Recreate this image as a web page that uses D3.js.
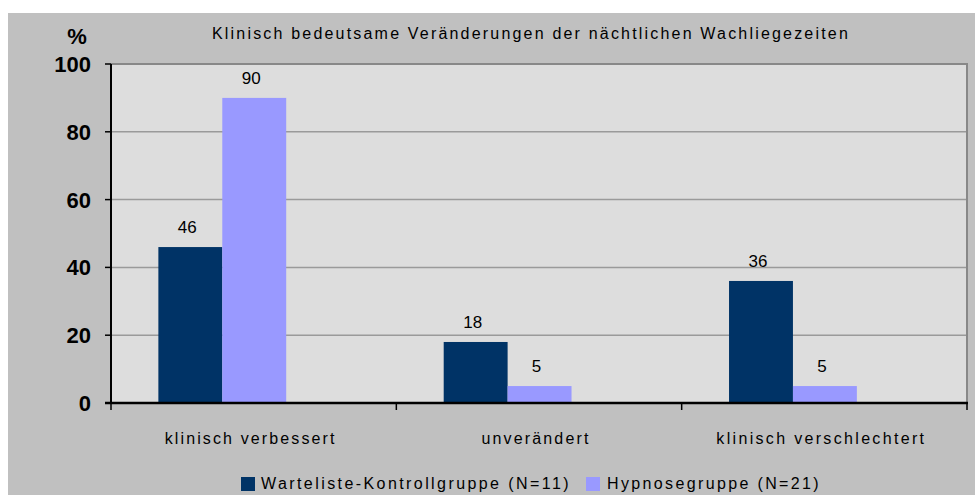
<!DOCTYPE html>
<html>
<head>
<meta charset="utf-8">
<script src="https://cdn.jsdelivr.net/npm/d3@7"></script>
<style>
  body { margin: 0; background: #fff; }
  svg { display: block; font-family: "Liberation Sans", Arial, sans-serif; }
</style>
</head>
<body>
<div id="chart"></div>
<script>
// chart data
const categories = ['klinisch verbessert', 'unverändert', 'klinisch verschlechtert'];
const seriesNames = ['Warteliste-Kontrollgruppe (N=11)', 'Hypnosegruppe (N=21)'];
const kontrollValues = [46, 18, 36];
const hypnoseValues = [90, 5, 5];
const yTicks = [0, 20, 40, 60, 80, 100];
const title = 'Klinisch bedeutsame Veränderungen der nächtlichen Wachliegezeiten';

const colors = ['#003366', '#9999ff'];
const width = 975, height = 495;
const margin = { top: 64, right: 8, bottom: 92, left: 111 };

// stretch a text to a wanted width with letter spacing
function spreadTo(sel, target) {
    sel.each(function(d, i) {
        const t = typeof target === 'function' ? target(d, i) : target;
        const natural = this.getComputedTextLength();
        const n = this.textContent.length;
        if (n > 1) d3.select(this).style('letter-spacing', ((t - natural) / n) + 'px');
    });
}

const svg = d3.select('#chart').append('svg')
    .attr('width', width)
    .attr('height', height);

// outer panel
svg.append('rect')
    .attr('x', 8).attr('y', 13)
    .attr('width', width - 8).attr('height', height - 13)
    .attr('fill', '#c0c0c0');

const x = d3.scaleBand()
    .domain(categories)
    .range([margin.left, width - margin.right]);

// bars sit left of the band centre, like the original
const step = x.bandwidth();
const xInner = d3.scaleBand()
    .domain(d3.range(seriesNames.length))
    .range([step * 0.166, step * 0.614]);

const y = d3.scaleLinear()
    .domain([0, 100])
    .range([height - margin.bottom, margin.top]);

const x0 = margin.left, x1 = width - margin.right;
const y0 = y(0), yTop = y(100);

// plot background
svg.append('rect')
    .attr('x', x0).attr('y', yTop)
    .attr('width', x1 - x0)
    .attr('height', y0 - yTop)
    .attr('fill', '#dddddd');

// grid lines
svg.append('g')
    .selectAll('line')
    .data(yTicks.filter(d => d > 0 && d < 100))
    .enter()
    .append('line')
    .attr('x1', x0).attr('x2', x1)
    .attr('y1', d => y(d)).attr('y2', d => y(d))
    .attr('stroke', '#9a9a9a')
    .attr('stroke-width', 1.5);

// top and right border
svg.append('path')
    .attr('d', `M${x0},${yTop}H${x1}V${y0}`)
    .attr('fill', 'none')
    .attr('stroke', '#888')
    .attr('stroke-width', 2);

const bars = [];
categories.forEach((c, ci) => {
    [kontrollValues[ci], hypnoseValues[ci]].forEach((v, si) => {
        bars.push({ category: c, series: si, value: v });
    });
});

svg.append('g')
    .selectAll('rect')
    .data(bars)
    .enter()
    .append('rect')
    .attr('x', d => x(d.category) + xInner(d.series))
    .attr('y', d => y(d.value))
    .attr('width', xInner.bandwidth())
    .attr('height', d => y0 - y(d.value))
    .attr('fill', d => colors[d.series]);

svg.append('g')
    .selectAll('text')
    .data(bars)
    .enter()
    .append('text')
    .attr('x', d => x(d.category) + xInner(d.series) + xInner.bandwidth() / 2 - 3)
    .attr('y', d => y(d.value) - 14)
    .attr('text-anchor', 'middle')
    .style('font-size', '17px')
    .style('fill', '#000')
    .text(d => d.value);

// y axis line and ticks
svg.append('line')
    .attr('x1', x0).attr('x2', x0)
    .attr('y1', yTop).attr('y2', y0)
    .attr('stroke', '#000')
    .attr('stroke-width', 2);
svg.append('g')
    .selectAll('line')
    .data(yTicks)
    .enter()
    .append('line')
    .attr('x1', x0 - 6).attr('x2', x0)
    .attr('y1', d => y(d)).attr('y2', d => y(d))
    .attr('stroke', '#000')
    .attr('stroke-width', 1.5);
svg.append('g')
    .selectAll('text')
    .data(yTicks)
    .enter()
    .append('text')
    .attr('x', x0 - 20)
    .attr('y', d => y(d) + 8)
    .attr('text-anchor', 'end')
    .style('font-size', '22px')
    .style('font-weight', 'bold')
    .text(d => d);

// x axis
svg.append('line')
    .attr('x1', x0 - 6).attr('x2', x1 + 1)
    .attr('y1', y0).attr('y2', y0)
    .attr('stroke', '#000')
    .attr('stroke-width', 2.5);
const xTickPos = categories.map(c => x(c)).concat([x1]);
svg.append('g')
    .selectAll('line')
    .data(xTickPos)
    .enter()
    .append('line')
    .attr('x1', d => d).attr('x2', d => d)
    .attr('y1', y0).attr('y2', y0 + 7)
    .attr('stroke', '#000')
    .attr('stroke-width', 1.5);

const catWidths = [172, 109, 210];
svg.append('g')
    .selectAll('text')
    .data(categories)
    .enter()
    .append('text')
    .attr('x', d => x(d) + step / 2 - 3)
    .attr('y', y0 + 41)
    .attr('text-anchor', 'middle')
    .style('font-size', '16px')
    .text(d => d)
    .call(spreadTo, (d, i) => catWidths[i]);

// "%" label
svg.append('text')
    .attr('x', 77).attr('y', 44)
    .attr('text-anchor', 'middle')
    .style('font-size', '22px')
    .style('font-weight', 'bold')
    .text('%');

// title
svg.append('text')
    .attr('x', 531).attr('y', 39)
    .attr('text-anchor', 'middle')
    .style('font-size', '16px')
    .text(title)
    .call(spreadTo, 638);

// legend
const legendItems = [
    { x: 241, tx: 261, w: 310 },
    { x: 586, tx: 607, w: 214 }
];
const legend = svg.append('g');
legend.selectAll('rect')
    .data(seriesNames)
    .enter()
    .append('rect')
    .attr('x', (d, i) => legendItems[i].x)
    .attr('y', 477)
    .attr('width', 14).attr('height', 14)
    .attr('fill', (d, i) => colors[i]);
legend.selectAll('text')
    .data(seriesNames)
    .enter()
    .append('text')
    .attr('x', (d, i) => legendItems[i].tx)
    .attr('y', 489)
    .style('font-size', '16px')
    .text(d => d)
    .call(spreadTo, (d, i) => legendItems[i].w);
</script>
</body>
</html>
